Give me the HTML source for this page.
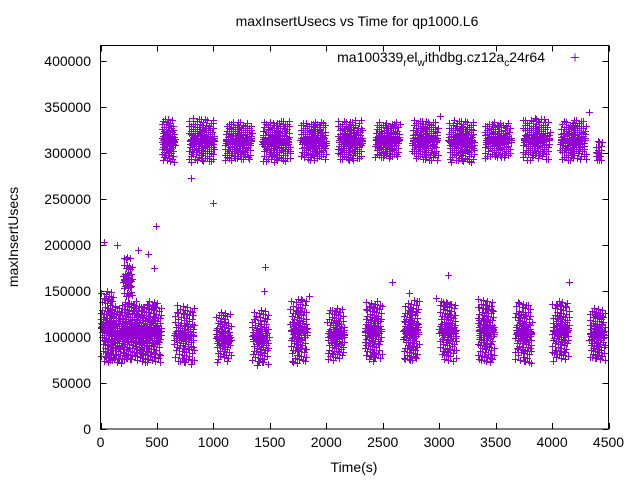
<!DOCTYPE html>
<html><head><meta charset="utf-8">
<style>
html,body{margin:0;padding:0;background:#fff;}
svg text{font-family:"Liberation Sans",sans-serif;fill:#000;}
</style></head>
<body>
<svg id="chart" width="640" height="480" viewBox="0 0 640 480">
  <rect width="640" height="480" fill="#fff"/>
  <text x="357" y="26" font-size="14" text-anchor="middle">maxInsertUsecs vs Time for qp1000.L6</text>
  <text x="0" y="0" font-size="14" text-anchor="middle" transform="translate(18,237) rotate(-90)">maxInsertUsecs</text>
  <text x="354" y="472" font-size="14" text-anchor="middle">Time(s)</text>
  <g id="axes"></g>
  <path id="points" fill="none" stroke="#9400d3" stroke-width="1" shape-rendering="crispEdges"/>
  <rect x="100.5" y="45.5" width="508" height="383.5" fill="none" stroke="#000" stroke-width="1"/>
  <g>
    <text x="545" y="62" font-size="14" text-anchor="end">ma100339<tspan font-size="10" dy="4">r</tspan><tspan dy="-4">el</tspan><tspan font-size="10" dy="4">w</tspan><tspan dy="-4">ithdbg.cz12a</tspan><tspan font-size="10" dy="4">c</tspan><tspan dy="-4">24r64</tspan></text>
    <path d="M571,57.5h8M575,53.5v8" stroke="#9400d3" stroke-width="1"/>
  </g>
</svg>
<script>
// Cluster data (time in s, value in usecs): extents of each cluster
const clusterXStart = [540,780,1100,1430,1770,2100,2430,2760,3080,3400,3740,4070,4380, 0,80,190,300,400,650,1020,1340,1680,2010,2340,2680,3000,3340,3670,4000,4330, 200];
const clusterXEnd   = [660,1010,1340,1680,2000,2320,2650,2990,3310,3640,3980,4300,4440, 130,240,330,440,540,830,1160,1490,1830,2160,2490,2820,3150,3490,3820,4150,4470, 280];
const clusterYLow   = [290000,290000,292000,290000,292000,292000,294000,292000,290000,294000,292000,292000,288000, 72000,72000,75000,72000,72000,70000,72000,70000,72000,74000,74000,74000,74000,72000,72000,74000,74000, 135000];
const clusterYHigh  = [338000,338000,334000,336000,334000,336000,334000,336000,336000,334000,338000,336000,314000, 150000,135000,140000,135000,140000,135000,128000,130000,142000,132000,140000,140000,140000,142000,138000,140000,132000, 188000];
const clusterCount  = [90,160,160,170,150,150,140,150,160,140,150,150,20, 110,110,100,120,110,120,80,100,120,110,120,120,120,130,120,120,110, 50];
// Isolated points
const outlierX = [27,495,1000,805,1460,3076,2580,4150,4330,150,3010,60,330,420,470,2730,2970,1450,1850];
const outlierY = [203000,221000,246000,273000,176000,167000,160000,160000,345000,200000,340000,150000,195000,190000,175000,148000,142000,150000,145000];
const xTicks = [0,500,1000,1500,2000,2500,3000,3500,4000,4500];
const yTicks = [0,50000,100000,150000,200000,250000,300000,350000,400000];

const X0=100.5,X1=608.5,Y0=429,Y1=61;
function sx(v){return X0+(v-0)/4500*(X1-X0);}
function sy(v){return Y0-(v-0)/400000*(Y0-Y1);}

const ax=document.getElementById('axes');
const NS='http://www.w3.org/2000/svg';
let tickPath='';
xTicks.forEach(t=>{
  const x=Math.round(sx(t))+0.5;
  tickPath+=`M${x},429v-6M${x},45.5v6`;
  const tx=document.createElementNS(NS,'text');
  tx.setAttribute('x',sx(t));tx.setAttribute('y',447);
  tx.setAttribute('font-size','14');tx.setAttribute('text-anchor','middle');
  
  
  tx.textContent=t;ax.appendChild(tx);
});
yTicks.forEach(t=>{
  const y=Math.round(sy(t))+0.5;
  tickPath+=`M100.5,${y}h6M608.5,${y}h-6`;
  const tx=document.createElementNS(NS,'text');
  tx.setAttribute('x',91);tx.setAttribute('y',sy(t)+5);
  tx.setAttribute('font-size','14');tx.setAttribute('text-anchor','end');
  
  
  tx.textContent=t;ax.appendChild(tx);
});
const tp=document.createElementNS(NS,'path');
tp.setAttribute('d',tickPath);tp.setAttribute('stroke','#000');tp.setAttribute('fill','none');


ax.appendChild(tp);

// Marks: R2 low-discrepancy layout, concentrated toward each cluster's centre
let d='';
function mark(x,y){const px=Math.round(sx(x))+0.5,py=Math.round(sy(y))+0.5;d+=`M${px-3.5},${py}h7M${px},${py-3.5}v7`;}
const a1=0.7548776662,a2=0.5698402910;
function centre(t,p){const s=2*t-1;return 0.5+0.5*Math.sign(s)*Math.pow(Math.abs(s),p);}
let k=0;
for(let c=0;c<clusterCount.length;c++){
  for(let i=0;i<clusterCount[c];i++,k++){
    const u=(0.5+a1*k)%1, w=(0.5+a2*k)%1;
    const wx=centre(u,1.2), wy=centre(w,1.7);
    mark(clusterXStart[c]+wx*(clusterXEnd[c]-clusterXStart[c]), clusterYLow[c]+wy*(clusterYHigh[c]-clusterYLow[c]));
  }
}
for(let i=0;i<outlierX.length;i++) mark(outlierX[i],outlierY[i]);
document.getElementById('points').setAttribute('d',d);
</script>
</body></html>
